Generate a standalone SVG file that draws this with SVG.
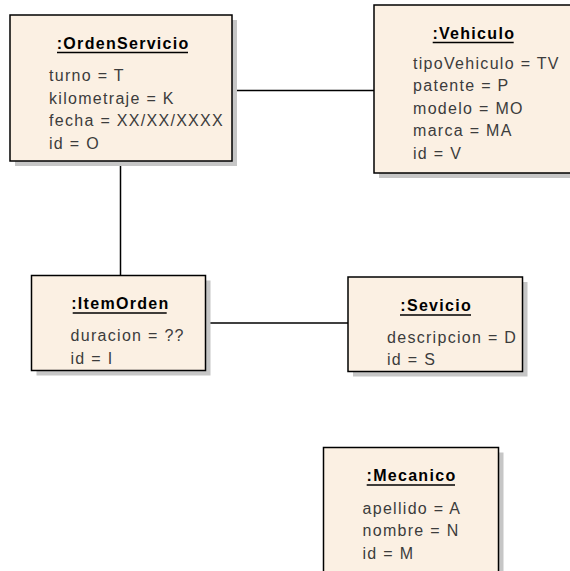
<svg xmlns="http://www.w3.org/2000/svg" width="570" height="571" viewBox="0 0 570 571">
<style>
.shadow{fill:#C6C6C6}
.box{fill:#FBF0E3;stroke:#000;stroke-width:1.5}
.title{font-family:"Liberation Sans",Arial,sans-serif;font-size:16px;font-weight:bold;letter-spacing:1.3px;fill:#000;text-anchor:middle}
.attr{font-family:"Liberation Sans",Arial,sans-serif;font-size:16px;letter-spacing:1.3px;fill:#3C3C3C}
.ul{stroke:#000;stroke-width:1.5}
.conn{stroke:#000;stroke-width:1.5;fill:none}
</style>
<rect width="570" height="571" fill="#fff"/>
<g id="connectors">
<line class="conn" x1="232" y1="90.5" x2="374" y2="90.5"/>
<line class="conn" x1="120.5" y1="161" x2="120.5" y2="275.5"/>
<line class="conn" x1="205.5" y1="323" x2="348" y2="323"/>
</g>
<g id="OrdenServicio">
<rect class="shadow" x="15" y="20" width="222" height="146"/>
<rect class="box" x="10" y="15" width="222" height="146"/>
<text class="title" x="123.2" y="48.5">:OrdenServicio</text>
<line class="ul" x1="57" y1="52.5" x2="188" y2="52.5"/>
<text class="attr" x="49" y="81">turno = T</text>
<text class="attr" x="49" y="103.5">kilometraje = K</text>
<text class="attr" x="49" y="126">fecha = XX/XX/XXXX</text>
<text class="attr" x="49" y="148.5">id = O</text>
</g>
<g id="Vehiculo">
<rect class="shadow" x="379" y="10" width="198" height="168"/>
<rect class="box" x="374" y="5" width="198" height="168"/>
<text class="title" x="473.8" y="38.5">:Vehiculo</text>
<line class="ul" x1="432.7" y1="42.5" x2="513.7" y2="42.5"/>
<text class="attr" x="413" y="68.5">tipoVehiculo = TV</text>
<text class="attr" x="413" y="91">patente = P</text>
<text class="attr" x="413" y="113.5">modelo = MO</text>
<text class="attr" x="413" y="136">marca = MA</text>
<text class="attr" x="413" y="158.5">id = V</text>
</g>
<g id="ItemOrden">
<rect class="shadow" x="36.5" y="280.5" width="174" height="95"/>
<rect class="box" x="31.5" y="275.5" width="174" height="95"/>
<text class="title" x="120.4" y="309">:ItemOrden</text>
<line class="ul" x1="72.7" y1="313" x2="166.7" y2="313"/>
<text class="attr" x="70.5" y="341">duracion = ??</text>
<text class="attr" x="70.5" y="363.5">id = I</text>
</g>
<g id="Sevicio">
<rect class="shadow" x="353" y="282" width="174.5" height="94.5"/>
<rect class="box" x="348" y="277" width="174.5" height="94.5"/>
<text class="title" x="436.2" y="311">:Sevicio</text>
<line class="ul" x1="400" y1="315" x2="471" y2="315"/>
<text class="attr" x="387" y="342.5">descripcion = D</text>
<text class="attr" x="387" y="364.5">id = S</text>
</g>
<g id="Mecanico">
<rect class="shadow" x="328.5" y="452.5" width="175" height="140"/>
<rect class="box" x="323.5" y="447.5" width="175" height="140"/>
<text class="title" x="411.5" y="481">:Mecanico</text>
<line class="ul" x1="366.7" y1="485" x2="455" y2="485"/>
<text class="attr" x="362.5" y="513.5">apellido = A</text>
<text class="attr" x="362.5" y="536">nombre = N</text>
<text class="attr" x="362.5" y="558.5">id = M</text>
</g>
</svg>
